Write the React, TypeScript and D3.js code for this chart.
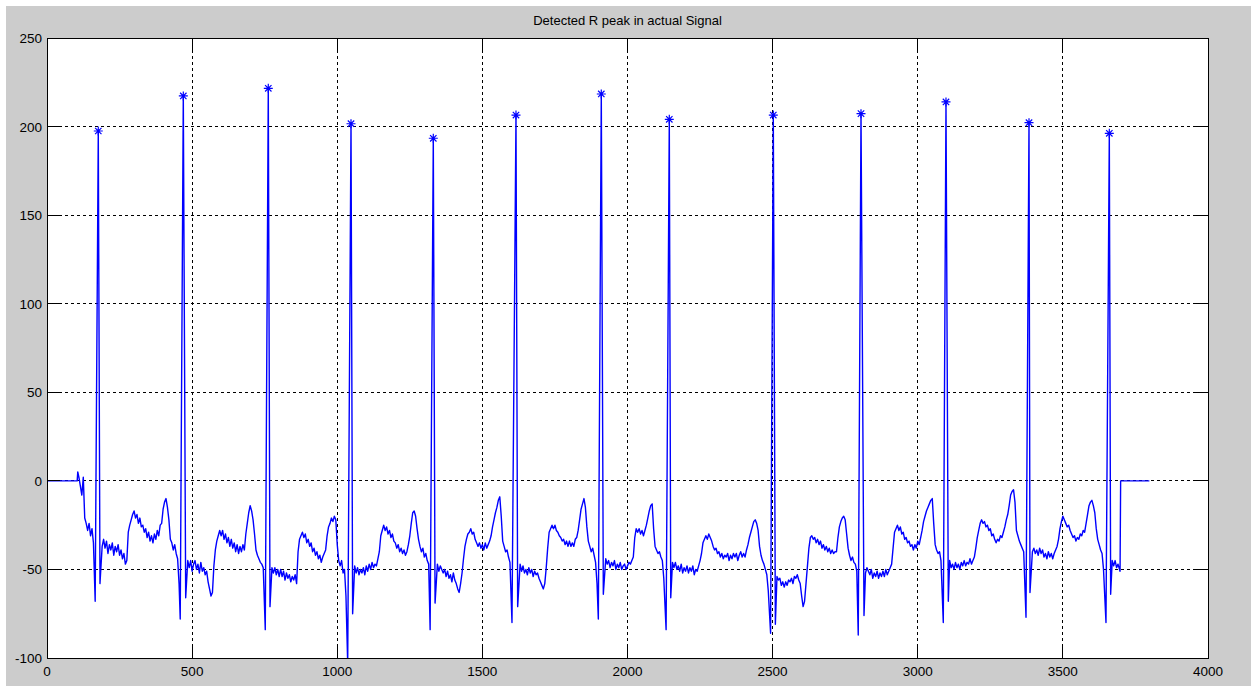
import React from 'react';
import * as d3 from 'd3';

// Axis ranges and tick values
const X_DOMAIN: [number, number] = [0, 4000];
const Y_DOMAIN: [number, number] = [-100, 250];
const xTicks = [0, 500, 1000, 1500, 2000, 2500, 3000, 3500, 4000];
const yTicks = [-100, -50, 0, 50, 100, 150, 200, 250];

const TITLE = 'Detected R peak in actual Signal';

// ECG samples every 5 points starting at sample 110 (one row = 100 samples).
// null marks a span covered by a QRS complex (see arrays below).
const SAMPLE_START = 110;
const SAMPLE_STEP = 5;
const ecgSamples: (number | null)[] = [
  2, -3, -8, 2, -21, -24, -28, -24, -31, -27, -35, null, null, null, null, null, -37, -33, -38, -34,
  -41, -36, -39, -35, -42, -37, -40, -36, -42, -39, -44, -41, -47, -45, -29, -25, -22, -19, -17, -21,
  -19, -24, -21, -26, -25, -29, -27, -32, -29, -34, -31, -35, -30, -33, -28, -31, -25, -24, -16, -12,
  -10, -15, -22, -33, -35, -39, -36, -41, -44, -58, null, null, null, null, null, -45, -49, -45, -51, -47,
  -45, -50, -47, -52, -46, -51, -49, -53, -51, -57, -61, -65, -63, -48, -39, -34, -31, -28, -31, -28,
  -33, -30, -35, -32, -37, -33, -38, -35, -40, -36, -41, -37, -40, -36, -39, -30, -24, -18, -14, -17,
  -22, -30, -39, -42, -44, -46, -47, -49, null, null, null, null, null, -49, -52, -49, -53, -50, -54, -50,
  -54, -51, -56, -52, -55, -53, -57, -54, -56, -53, -58, -40, -33, -31, -29, -32, -30, -35, -33, -37,
  -35, -40, -38, -42, -40, -44, -42, -46, -43, -41, -39, -31, -26, -24, -21, -23, -20, -22, -36, -45,
  -48, -45, -52, -50, -65, null, null, null, null, null, -48, -52, -49, -53, -50, -52, -49, -53, -48, -51,
  -47, -50, -46, -49, -47, -48, -44, -40, -31, -28, -25, -28, -26, -30, -28, -32, -30, -34, -35, -38,
  -36, -40, -38, -41, -39, -42, -40, -36, -31, -24, -18, -17, -20, -27, -33, -37, -40, -38, -43, -41,
  -45, -47, null, null, null, null, null, -47, -51, -48, -50, -52, -50, -54, -51, -55, -53, -57, -52, -56,
  -58, -61, -63, -58, -52, -44, -37, -33, -30, -29, -27, -30, -29, -33, -35, -37, -35, -38, -36, -39,
  -35, -38, -36, -34, -31, -26, -22, -18, -15, -11, -9, -20, -34, -37, -40, -39, -43, -46, null, null,
  null, null, null, null, -47, -51, -48, -52, -50, -53, -49, -52, -50, -54, -51, -53, -52, -55, -57, -59,
  -61, -58, -49, -38, -29, -27, -25, -27, -25, -28, -29, -31, -32, -34, -33, -36, -34, -37, -34, -37,
  -35, -37, -33, -32, -28, -22, -16, -13, -10, -15, -26, -34, -37, -40, -38, -42, -46, -58, null, null,
  null, null, null, -44, -47, -45, -49, -46, -48, -45, -50, -47, -49, -46, -50, -48, -47, -50, -48, -46,
  -47, -45, -43, -32, -27, -29, -27, -30, -28, -31, -28, -25, -21, -17, -14, -13, -27, -37, -39, -41,
  -40, -43, -45, -55, null, null, null, null, null, -46, -49, -46, -50, -48, -51, -47, -52, -49, -51, -48,
  -52, -49, -51, -48, -53, -50, -51, -48, -45, -41, -35, -33, -31, -33, -30, -32, -34, -37, -39, -38,
  -41, -40, -43, -41, -44, -42, -43, -41, -45, -42, -44, -41, -43, -41, -45, -42, -40, -43, -41, -43,
  -39, -36, -32, -29, -26, -23, -22, -24, -28, -37, -42, -45, -47, -50, -53, -62, null, null, null, null,
  null, -54, -56, -55, -59, -57, -60, -57, -59, -56, -57, -55, -58, -54, -55, -53, -56, -58, -65, -71,
  -68, -58, -48, -38, -32, -31, -33, -32, -35, -33, -36, -34, -38, -36, -39, -37, -40, -38, -41, -39,
  -41, -40, -40, -32, -26, -23, -21, -20, -22, -30, -38, -42, -45, -43, -46, -47, -51, null, null, null,
  null, null, -52, -49, -51, -53, -50, -55, -52, -54, -51, -55, -52, -54, -51, -54, -50, -53, -51, -49,
  -47, -38, -29, -27, -25, -28, -26, -30, -29, -33, -32, -35, -34, -37, -36, -39, -36, -38, -34, -36,
  -32, -28, -23, -20, -17, -15, -13, -11, -10, -24, -36, -39, -41, -40, -45, null, null, null, null, null,
  -45, -49, -47, -50, -46, -49, -47, -50, -46, -48, -45, -48, -46, -47, -44, -47, -45, -43, -38, -32,
  -28, -24, -22, -24, -23, -26, -25, -28, -27, -31, -30, -33, -35, -33, -34, -31, -32, -29, -26, -22,
  -19, -14, -8, -6, -5, -12, -28, -31, -34, -36, -38, -40, null, null, null, null, null, -40, -38, -41,
  -39, -42, -38, -41, -39, -43, -41, -44, -40, -43, -41, -44, -41, -39, -37, -33, -27, -23, -20, -22,
  -24, -26, -25, -28, -30, -32, -31, -34, -32, -33, -30, -31, -28, -29, -24, -19, -14, -12, -11, -14,
  -18, -27, -33, -36, -39, -41, -50, null, null, null, null, null, -45, -48, -45, -49, -47, -50,
];

// Flat padding before and after the recorded signal
const onset: [number, number][] = [[0, 0], [104, 0], [106, 5]];
const tail: [number, number][] = [[3697, -51], [3699, 0], [3798, 0]];

// QRS complexes: Q dip, detected R peak, S dip
const qDipX = [166, 459, 752, 1036, 1320, 1602, 1899.5, 2133, 2493, 2795, 3088, 3373, 3648.5];
const qDipV = [-68, -78, -84, -103, -84, -80, -78, -84, -86, -87, -80, -77, -80];
const peakX = [176.7, 469.6, 762.4, 1047.4, 1330.9, 1615.8, 1909.7, 2144, 2502.3, 2804.5, 3097.3, 3383.3, 3660];
const peakV = [197.5, 217.3, 221.6, 201.6, 193.4, 206.5, 218.4, 204.1, 206.5, 207.3, 213.9, 202.2, 196.2];
const sDipX = [182.5, 477.8, 768.3, 1053, 1337, 1621.6, 1916.7, 2149, 2509.4, 2814.8, 3105.3, 3386.7, 3664.6];
const sDipV = [-58, -66, -71, -75, -69, -71, -64, -66, -81, -76, -68, -63, -64];

const W = 1251;
const H = 687;
const FONT = '"Liberation Sans", Arial, Helvetica, sans-serif';
const BLUE = '#0000ff';

export default function App() {
  const left = 47;
  const right = 1208;
  const top = 38;
  const bottom = 658;
  const tickLen = 13;

  const x = d3.scaleLinear().domain(X_DOMAIN).range([left, right]);
  const y = d3.scaleLinear().domain(Y_DOMAIN).range([bottom, top]);

  const pts: [number, number][] = [...onset];
  ecgSamples.forEach((v, i) => {
    if (v !== null) pts.push([SAMPLE_START + i * SAMPLE_STEP, v]);
  });
  peakX.forEach((px, i) => {
    pts.push([qDipX[i], qDipV[i]], [px, peakV[i]], [sDipX[i], sDipV[i]]);
  });
  pts.push(...tail);
  pts.sort((a, b) => a[0] - b[0]);

  const line = d3
    .line<[number, number]>()
    .x((d) => x(d[0]))
    .y((d) => y(d[1]));

  const star = 'M-4.5,0H4.5M0,-4.5V4.5M-3.2,-3.2L3.2,3.2M-3.2,3.2L3.2,-3.2';

  return (
    <svg
      width={W}
      height={H}
      style={{ position: 'absolute', left: 0, top: 0, display: 'block' }}
      fontFamily={FONT}
    >
      <rect x={0} y={0} width={W} height={H} fill="#ffffff" />
      <rect x={6} y={6} width={W - 6} height={H - 7} fill="#cccccc" />
      <rect x={left} y={top} width={right - left} height={bottom - top} fill="#ffffff" />

      <defs>
        <clipPath id="plot-area">
          <rect x={left} y={top} width={right - left} height={bottom - top} />
        </clipPath>
      </defs>

      {/* dotted grid */}
      <g stroke="#000" strokeWidth={1} strokeDasharray="3,3" shapeRendering="crispEdges">
        {xTicks
          .filter((t) => t !== X_DOMAIN[0] && t !== X_DOMAIN[1])
          .map((t) => (
            <line key={'gx' + t} x1={x(t)} x2={x(t)} y1={top} y2={bottom} />
          ))}
        {yTicks
          .filter((t) => t !== Y_DOMAIN[0] && t !== Y_DOMAIN[1])
          .map((t) => (
            <line key={'gy' + t} x1={left} x2={right} y1={y(t)} y2={y(t)} />
          ))}
      </g>

      {/* signal and detected peaks */}
      <g clipPath="url(#plot-area)">
        <path d={line(pts) || ''} fill="none" stroke={BLUE} strokeWidth={1.4} strokeLinejoin="round" />
        {peakX.map((px, i) => (
          <path
            key={'pk' + i}
            d={star}
            transform={`translate(${x(px)},${y(peakV[i])})`}
            stroke={BLUE}
            strokeWidth={1.2}
            fill="none"
          />
        ))}
      </g>

      {/* box and inward ticks */}
      <g stroke="#000" strokeWidth={1} shapeRendering="crispEdges">
        <rect x={left} y={top} width={right - left} height={bottom - top} fill="none" />
        {xTicks.map((t) => (
          <g key={'tx' + t}>
            <line x1={x(t)} x2={x(t)} y1={bottom} y2={bottom - tickLen} />
            <line x1={x(t)} x2={x(t)} y1={top} y2={top + tickLen} />
          </g>
        ))}
        {yTicks.map((t) => (
          <g key={'ty' + t}>
            <line x1={left} x2={left + tickLen} y1={y(t)} y2={y(t)} />
            <line x1={right} x2={right - tickLen} y1={y(t)} y2={y(t)} />
          </g>
        ))}
      </g>

      {/* tick labels */}
      <g fontSize={13.5} fill="#000">
        {xTicks.map((t) => (
          <text key={'lx' + t} x={x(t)} y={676} textAnchor="middle">
            {t}
          </text>
        ))}
        {yTicks.map((t) => (
          <text key={'ly' + t} x={42} y={y(t) + 5} textAnchor="end">
            {t}
          </text>
        ))}
      </g>

      <text x={(left + right) / 2} y={25} textAnchor="middle" fontSize={13} fill="#000">
        {TITLE}
      </text>
    </svg>
  );
}
